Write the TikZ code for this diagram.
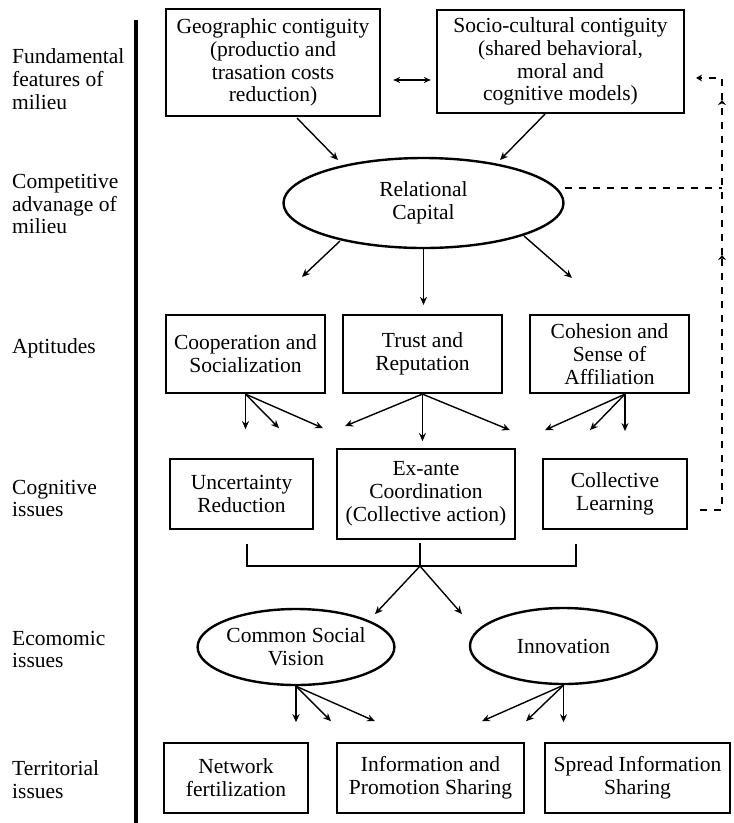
\documentclass[tikz,border=0pt]{standalone}
\usepackage{fontspec}
\setmainfont{Liberation Serif}
\usetikzlibrary{arrows.meta,shapes.geometric}
\begin{document}
\begin{tikzpicture}[x=1pt,y=-1pt,
  every node/.style={font=\fontsize{21.5}{22.8}\selectfont, inner sep=0pt, align=center},
  box/.style={draw, line width=2.2pt, rectangle},
  oval/.style={draw, line width=2.4pt, ellipse},
  lab/.style={anchor=west, align=left},
  arr/.style={line width=1.4pt, -{Stealth[length=8pt,width=7pt]}},
  dsh/.style={line width=1.3pt, dash pattern=on 7pt off 7pt},
  uptip/.style={-{Stealth[length=5pt,width=8pt]}},
]
\useasboundingbox (0,0) rectangle (734,823);

% thick vertical bar
\draw[line width=4.5pt] (136,20) -- (136,823);

% left labels
\node[lab] (l1) at (12,79) {Fundamental\\features of\\milieu};
\node[lab] (l2) at (12,204) {Competitive\\advanage of\\milieu};
\node[lab] (l3) at (12,348) {Aptitudes};
\node[lab] (l4) at (12,498.5) {Cognitive\\issues};
\node[lab] (l5) at (12,649.5) {Ecomomic\\issues};
\node[lab] (l6) at (12,779.5) {Territorial\\issues};

% top row
\node[box, minimum width=214pt, minimum height=107pt] (geo) at (273,62.5)
  {Geographic contiguity\\(productio and\\trasation costs\\reduction)};
\node[box, minimum width=247pt, minimum height=103pt] (socio) at (560.5,61.5)
  {Socio-cultural contiguity\\(shared behavioral,\\moral and\\cognitive models)};

% relational capital
\node[oval, minimum width=280pt, minimum height=90pt] (rc) at (423.5,203) {Relational\\Capital};

% aptitudes
\node[box, minimum width=159pt, minimum height=78pt] (coop) at (245.5,354) {Cooperation and\\Socialization};
\node[box, minimum width=159pt, minimum height=78pt] (trust) at (422.5,354) {Trust and\\Reputation};
\node[box, minimum width=159pt, minimum height=78pt] (coh) at (609.5,354) {Cohesion and\\Sense of\\Affiliation};

% cognitive issues
\node[box, minimum width=143pt, minimum height=70pt] (unc) at (241.5,494) {Uncertainty\\Reduction};
\node[box, minimum width=178pt, minimum height=90pt] (exa) at (426,494) {Ex-ante\\Coordination\\(Collective action)};
\node[box, minimum width=144pt, minimum height=70pt] (cl) at (615,494) {Collective\\Learning};

% economic issues
\node[oval, minimum width=186pt, minimum height=76pt] (csv) at (296,647) {Common Social\\Vision};
\node[oval, minimum width=187pt, minimum height=76pt] (inn) at (563.5,646) {Innovation};

% territorial issues
\node[box, minimum width=144pt, minimum height=70pt] (net) at (236,778) {Network\\fertilization};
\node[box, minimum width=187pt, minimum height=70pt] (info) at (430.5,778) {Information and\\Promotion Sharing};
\node[box, minimum width=185pt, minimum height=70pt] (spread) at (637.5,778) {Spread Information\\Sharing};

% connectors top
\draw[arr] ([shift={(24,1)}]geo.south) -- ([shift={(-85.5,-43)}]rc.center);
\draw[arr] ([shift={(-15.5,0)}]socio.south) -- ([shift={(76.5,-43)}]rc.center);
\draw[line width=1.4pt, {Stealth[length=7pt,width=6pt]}-{Stealth[length=7pt,width=6pt]}]
  ([shift={(12,17.5)}]geo.east) -- ([shift={(-5,18.5)}]socio.west);

% from relational capital
\draw[arr] ([shift={(-83.5,38)}]rc.center) -- ([shift={(56.5,-37)}]coop.north);
\draw[arr, shorten >=9pt] (rc.south) -- (rc.south |- trust.north);
\draw[arr] ([shift={(100.5,33)}]rc.center) -- ([shift={(-37.5,-36)}]coh.north);

% fans from aptitudes
\draw[arr] (coop.south) -- ++(0,35);
\draw[arr] (coop.south) -- ++(33.5,34);
\draw[arr] (coop.south) -- ++(77.5,34);
\draw[arr] (trust.south) -- ++(-77.5,32);
\draw[arr] (trust.south) -- ++(0,47);
\draw[arr] (trust.south) -- ++(87.5,36);
\coordinate (cohap) at ([shift={(15.5,0)}]coh.south);
\draw[arr] (cohap) -- ++(-80,36);
\draw[arr] (cohap) -- ++(-35,36);
\draw[arr] (cohap) -- ++(0,37);

% bracket
\draw[line width=2.4pt] ([shift={(5.5,14)}]unc.south) -- ++(0,22) -| ([shift={(-39,14)}]cl.south);
\coordinate (j) at ([shift={(-6,26)}]exa.south);
\draw[line width=2.4pt] ([shift={(-6,3)}]exa.south) -- (j);
\draw[arr] (j) -- ++(-45,48);
\draw[arr] (j) -- ++(42,48);

% fans from economic issues
\draw[arr] (csv.south) -- ++(0,36);
\draw[arr] (csv.south) -- ++(35,35);
\draw[arr] (csv.south) -- ++(79,35);
\draw[arr] (inn.south) -- ++(-81.5,36);
\draw[arr] (inn.south) -- ++(-37.5,36);
\draw[arr] (inn.south) -- ++(0,37);

% dashed feedback
\coordinate (d1) at ([shift={(141.5,-15)}]rc.center);
\coordinate (d2) at (722,188);
\coordinate (d3) at ([shift={(12,16)}]cl.east);
\coordinate (d4) at (722,510);
\coordinate (d5) at (722,78);
\coordinate (d6) at ([shift={(11,16.5)}]socio.east);
\coordinate (m1) at (722,255);
\coordinate (m2) at (722,100);
\draw[dsh] (d1) -- (d2);
\draw[dsh, uptip] (d3) -- (d4) -- (m1);
\draw[dsh, uptip] (m1) -- (m2);
\draw[dsh, -{Stealth[length=6pt,width=7pt]}] (m2) -- (d5) -- (d6);
\end{tikzpicture}
\end{document}
